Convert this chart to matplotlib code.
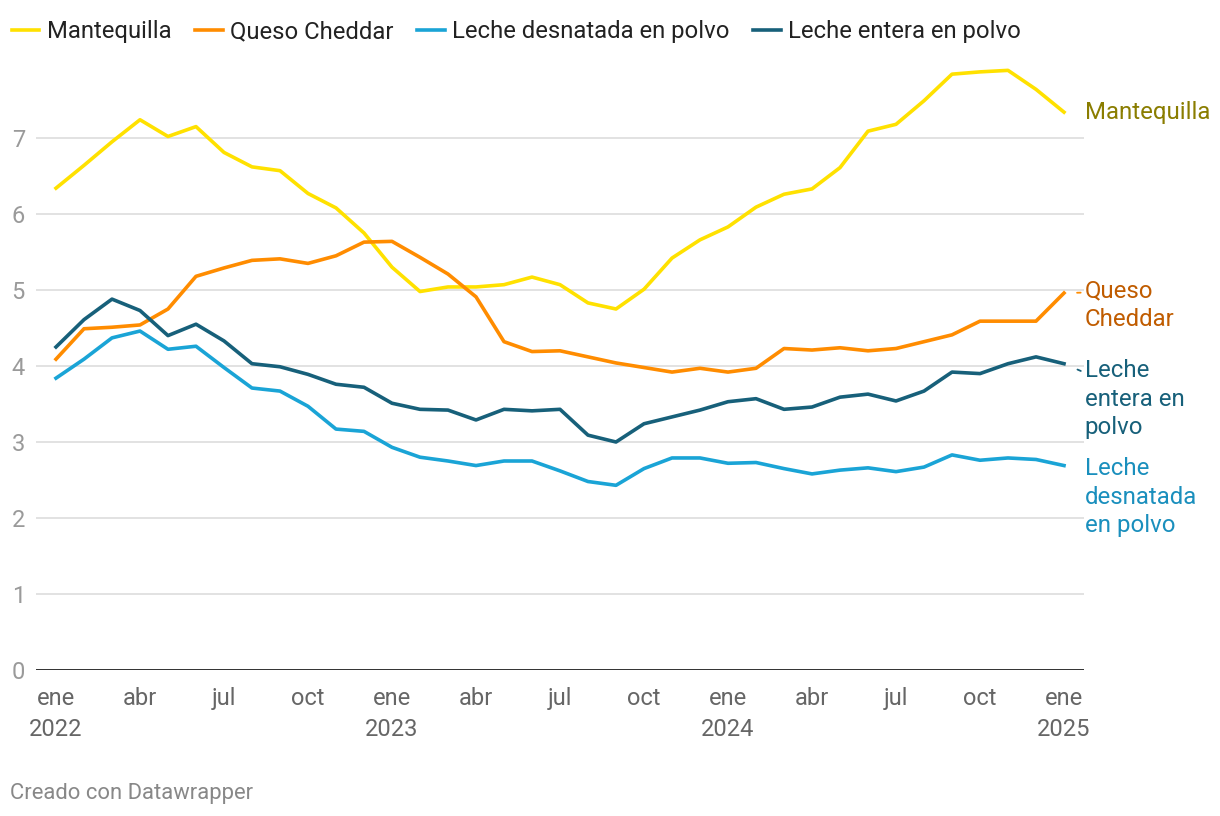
import matplotlib.pyplot as plt
import numpy as np

plt.rcParams['font.family'] = ['Roboto', 'DejaVu Sans']

# precios mensuales, ene 2022 - ene 2025
meses = np.arange(37)

mantequilla = [6.34, 6.64, 6.95, 7.24, 7.02, 7.15, 6.81, 6.62, 6.57, 6.27, 6.08, 5.75,
               5.30, 4.98, 5.04, 5.04, 5.07, 5.17, 5.07, 4.83, 4.75, 5.01, 5.42, 5.66,
               5.83, 6.09, 6.26, 6.33, 6.61, 7.09, 7.18, 7.49, 7.84, 7.87, 7.89, 7.64,
               7.34]
queso = [4.09, 4.49, 4.51, 4.54, 4.75, 5.18, 5.29, 5.39, 5.41, 5.35, 5.45, 5.63,
         5.64, 5.43, 5.21, 4.91, 4.32, 4.19, 4.20, 4.12, 4.04, 3.98, 3.92, 3.97,
         3.92, 3.97, 4.23, 4.21, 4.24, 4.20, 4.23, 4.32, 4.41, 4.59, 4.59, 4.59,
         4.96]
desnatada = [3.84, 4.09, 4.37, 4.46, 4.22, 4.26, 3.98, 3.71, 3.67, 3.47, 3.17, 3.14,
             2.93, 2.80, 2.75, 2.69, 2.75, 2.75, 2.62, 2.48, 2.43, 2.65, 2.79, 2.79,
             2.72, 2.73, 2.65, 2.58, 2.63, 2.66, 2.61, 2.67, 2.83, 2.76, 2.79, 2.77,
             2.69]
entera = [4.25, 4.61, 4.88, 4.73, 4.40, 4.55, 4.33, 4.03, 3.99, 3.89, 3.76, 3.72,
          3.51, 3.43, 3.42, 3.29, 3.43, 3.41, 3.43, 3.09, 3.00, 3.24, 3.33, 3.42,
          3.53, 3.57, 3.43, 3.46, 3.59, 3.63, 3.54, 3.67, 3.92, 3.90, 4.03, 4.12,
          4.03]

# nombre, valores, color linea, color etiqueta, etiqueta, desplazamiento (pt), conector
series = [
    ('Mantequilla', mantequilla, '#ffe100', '#8a7d00', 'Mantequilla', 0, False),
    ('Queso Cheddar', queso, '#ff8c00', '#c05c00', 'Queso\nCheddar', 9.6, True),
    ('Leche desnatada en polvo', desnatada, '#1aa4d6', '#1a8fbd', 'Leche\ndesnatada\nen polvo', 6.0, False),
    ('Leche entera en polvo', entera, '#17607a', '#17607a', 'Leche\nentera en\npolvo', 3.1, True),
]

xtick_pos = np.arange(0, 37, 3)
xtick_lab = ['ene\n2022', 'abr', 'jul', 'oct', 'ene\n2023', 'abr', 'jul', 'oct',
             'ene\n2024', 'abr', 'jul', 'oct', 'ene\n2025']

fig = plt.figure(figsize=(12.2, 8.16), dpi=100)
ax = fig.add_axes([36 / 1220, 1 - 670 / 816, 1048 / 1220, 608 / 816])

for nombre, vals, col, tcol, etiqueta, dy, conector in series:
    ax.plot(meses, vals, color=col, lw=2.6, label=nombre, solid_joinstyle='round', zorder=3)
    nl = etiqueta.count('\n') + 1
    props = None
    if conector:
        props = dict(arrowstyle='-', color=col, lw=1.3, linestyle=(0, (2, 2)),
                     shrinkA=1, shrinkB=8, relpos=(0, 1 - 0.5 / nl))
    ax.annotate(etiqueta, xy=(meses[-1], vals[-1]), xytext=(15, dy),
                textcoords='offset points', color=tcol, fontsize=17.3,
                va='center' if nl == 1 else 'top', ha='left', linespacing=1.3,
                annotation_clip=False, arrowprops=props)

ax.set_xlim(-0.714, 36.714)
ax.set_ylim(0, 8)
ax.set_yticks(range(8))
ax.set_yticklabels([str(i) for i in range(8)])
ax.set_xticks(xtick_pos)
ax.set_xticklabels(xtick_lab)
ax.tick_params(axis='y', length=0, pad=8, labelsize=17, labelcolor='#9a9a9a')
ax.tick_params(axis='x', length=0, pad=12, labelsize=17, labelcolor='#666666')
ax.grid(axis='y', color='#e2e2e2', lw=1.4, zorder=0)
ax.axhline(0, color='#222222', lw=2, zorder=4)
for s in ax.spines.values():
    s.set_visible(False)
for lab in ax.get_xticklabels():
    lab.set_linespacing(1.45)

fig.legend(loc='upper left', bbox_to_anchor=(12 / 1220, 1 - 20 / 816), ncol=4, frameon=False,
           fontsize=17.2, handlelength=1.15, handletextpad=0.3, columnspacing=1.0,
           borderpad=0, borderaxespad=0, labelcolor='#222222')

fig.text(10 / 1220, 1 - 794 / 816, 'Creado con Datawrapper', fontsize=15.8,
         color='#888888', va='center', ha='left')

fig.savefig('out.png', dpi=100)
